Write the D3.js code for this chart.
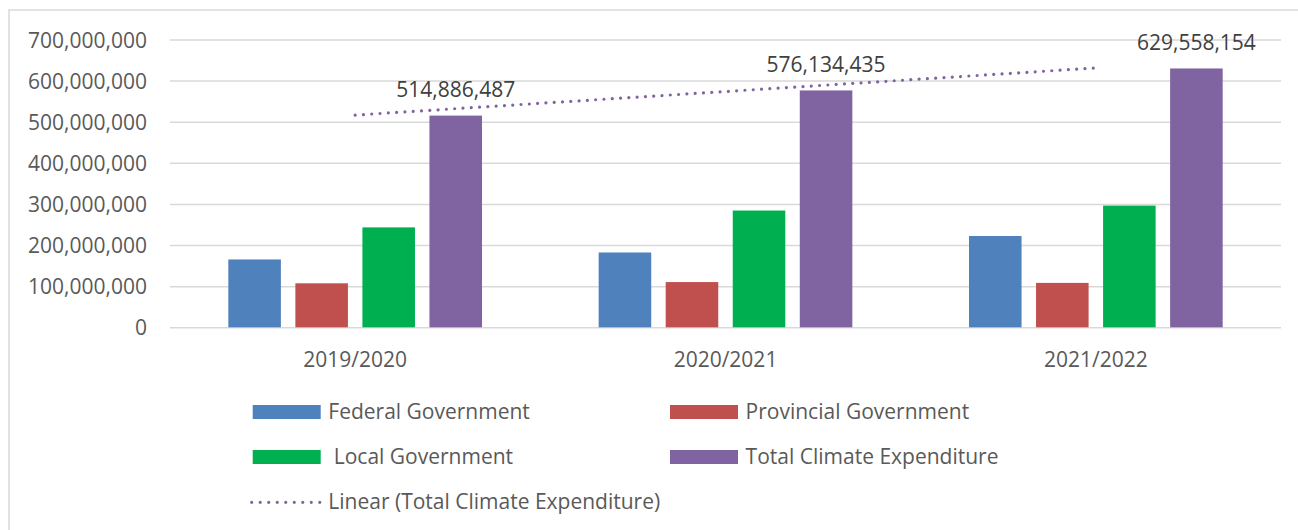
<!DOCTYPE html>
<html>
<head>
<meta charset="utf-8">
<script src="https://cdn.jsdelivr.net/npm/d3@7"></script>
<style>
  html, body { margin: 0; padding: 0; background: #fff; }
  svg { display: block; font-family: "Open Sans", sans-serif; }
</style>
</head>
<body>
<svg id="chart" width="1298" height="530"></svg>
<script>
// ---- data ----
const categories = ["2019/2020", "2020/2021", "2021/2022"];
const seriesNames = ["Federal Government", "Provincial Government", " Local Government", "Total Climate Expenditure"];
const federal = [165000000, 182000000, 222000000];
const provincial = [107000000, 110000000, 108000000];
const local = [243000000, 284000000, 296000000];
const total = [514886487, 576134435, 629558154];
const yTicks = [0, 100000000, 200000000, 300000000, 400000000, 500000000, 600000000, 700000000];
const colors = ["#4F81BD", "#C0504D", "#00B050", "#8064A2"];
const trendName = "Linear (Total Climate Expenditure)";

const seriesValues = [federal, provincial, local, total];

const svg = d3.select("#chart");
const plot = { left: 170, right: 1281, top: 39.5, bottom: 327.3 };

// chart border
svg.append("rect").attr("x", 9).attr("y", 10).attr("width", 1300).attr("height", 530)
  .attr("fill", "#fff").attr("stroke", "#d9d9d9").attr("stroke-width", 1.5);

const y = d3.scaleLinear().domain([0, 700000000]).range([plot.bottom, plot.top]);
const x0 = d3.scaleBand().domain(categories).range([plot.left, plot.right])
  .paddingInner(0.315).paddingOuter(0.1575);
const x1 = d3.scaleBand().domain(d3.range(seriesNames.length)).range([0, x0.bandwidth()])
  .paddingInner(0.216).paddingOuter(0);

const fmt = d3.format(",");

// gridlines + y labels
const yAxis = d3.axisLeft(y).tickValues(yTicks).tickFormat(fmt)
  .tickSize(-(plot.right - plot.left)).tickPadding(23);
const gy = svg.append("g").attr("transform", `translate(${plot.left},0)`).call(yAxis);
gy.select(".domain").remove();
gy.selectAll(".tick line").attr("stroke", "#d9d9d9").attr("stroke-width", 1.5);
gy.selectAll(".tick text").attr("fill", "#595959").attr("font-size", 21)
  .attr("font-family", "'Open Sans', sans-serif").attr("dy", "0.36em");

// x labels
const xAxis = d3.axisBottom(x0).tickSize(0).tickPadding(0);
const gx = svg.append("g").attr("transform", `translate(0,${plot.bottom})`).call(xAxis);
gx.select(".domain").remove();
gx.selectAll(".tick text").attr("fill", "#595959").attr("font-size", 21)
  .attr("font-family", "'Open Sans', sans-serif").attr("y", 39.4).attr("dy", 0);

// bars
const groups = svg.append("g").selectAll("g").data(categories).join("g")
  .attr("transform", d => `translate(${x0(d)},0)`);
groups.selectAll("rect").data((c, ci) => seriesValues.map((vals, si) => ({ si, v: vals[ci] })))
  .join("rect")
  .attr("x", d => x1(d.si))
  .attr("width", x1.bandwidth())
  .attr("y", d => y(d.v))
  .attr("height", d => y(0) - y(d.v))
  .attr("fill", d => colors[d.si]);

// data labels on totals
svg.append("g").selectAll("text").data(categories).join("text")
  .attr("x", (c) => x0(c) + x1(3) + x1.bandwidth() / 2)
  .attr("y", (c, i) => y(total[i]) - 18.5)
  .attr("text-anchor", "middle")
  .attr("fill", "#404040").attr("font-size", 21)
  .text((c, i) => fmt(total[i]));

// linear trendline (least squares on totals)
const xs = total.map((d, i) => i + 1);
const mx = d3.mean(xs), my = d3.mean(total);
const slope = d3.sum(xs.map((xv, i) => (xv - mx) * (total[i] - my))) / d3.sum(xs.map(xv => (xv - mx) ** 2));
const icpt = my - slope * mx;
const cx = c => x0(c) + x0.bandwidth() / 2;
const trendPts = [categories[0], categories[categories.length - 1]].map((c) => {
  const idx = categories.indexOf(c) + 1;
  return [cx(c), y(icpt + slope * idx)];
});
svg.append("path").attr("d", d3.line()(trendPts))
  .attr("fill", "none").attr("stroke", colors[3]).attr("stroke-width", 3.2)
  .attr("stroke-linecap", "round").attr("stroke-dasharray", "0.01 8.3");

// legend
const legendItems = [
  { name: seriesNames[0], color: colors[0], col: 0, row: 0, type: "rect" },
  { name: seriesNames[1], color: colors[1], col: 1, row: 0, type: "rect" },
  { name: seriesNames[2], color: colors[2], col: 0, row: 1, type: "rect" },
  { name: seriesNames[3], color: colors[3], col: 1, row: 1, type: "rect" },
  { name: trendName, color: colors[3], col: 0, row: 2, type: "line" }
];
const colX = [252.7, 670];
const rowY = [405, 450, 495];
const lg = svg.append("g");
legendItems.forEach(it => {
  const gx0 = colX[it.col], gy0 = rowY[it.row];
  if (it.type === "rect") {
    lg.append("rect").attr("x", gx0).attr("y", gy0).attr("width", 68).attr("height", 14)
      .attr("fill", it.color);
  } else {
    lg.append("line").attr("x1", gx0 - 1).attr("x2", gx0 + 68).attr("y1", gy0 + 7.3).attr("y2", gy0 + 7.3)
      .attr("stroke", it.color).attr("stroke-width", 3.2).attr("stroke-linecap", "round")
      .attr("stroke-dasharray", "0.01 8.5");
  }
  lg.append("text").attr("x", gx0 + 75.6).attr("y", gy0 + 14.3)
    .attr("fill", "#595959").attr("font-size", 21)
    .style("white-space", "pre")
    .text(it.name);
});
</script>
</body>
</html>
